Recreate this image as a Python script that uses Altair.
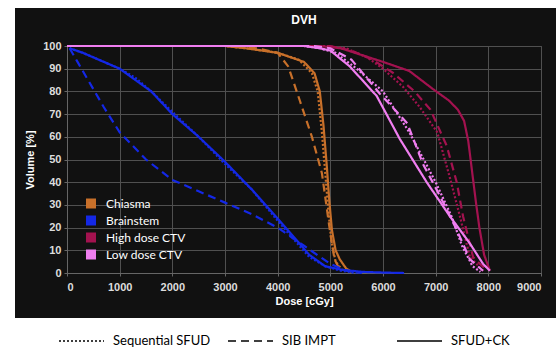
import altair as alt
import pandas as pd

# ---- data ----
structures = ["Chiasma", "Brainstem", "High dose CTV", "Low dose CTV"]
plans = ["Sequential SFUD", "SIB IMPT", "SFUD+CK"]
struct_colors = ["#c8702a", "#1428e6", "#a3124f", "#f07ef0"]

chiasma_seq_dose = [0, 3000, 3400, 4000, 4400, 4650, 4760, 4840, 4900, 4960, 5020, 5100, 5250]
chiasma_seq_vol = [100, 100, 99, 97, 94, 88, 80, 62, 45, 28, 14, 5, 0.5]
chiasma_sib_dose = [0, 3200, 3600, 4000, 4200, 4420, 4650, 4840, 4990, 5080, 5200]
chiasma_sib_vol = [100, 100, 99, 97, 91, 76, 60, 44, 19, 6, 0.5]
chiasma_ck_dose = [0, 3000, 3400, 4000, 4500, 4700, 4800, 4870, 4930, 4980, 5030, 5100, 5180, 5300, 5400]
chiasma_ck_vol = [100, 100, 99, 97, 93, 88, 80, 65, 48, 32, 19, 10, 6, 2, 0.5]

brain_seq_dose = [50, 300, 600, 1000, 1300, 1600, 2000, 2500, 3000, 3500, 4000, 4300, 4600, 4900, 5200, 5500]
brain_seq_vol = [99, 97, 94, 90, 86, 80, 71, 60, 48, 37, 23, 15, 7, 3, 1, 0]
brain_sib_dose = [50, 200, 400, 700, 1000, 1500, 2000, 2500, 3000, 3500, 4000, 4500, 5000, 5300, 5600]
brain_sib_vol = [99, 93, 85, 73, 62, 50, 41, 36, 31, 26, 20, 12, 4, 1, 0]
brain_ck_dose = [50, 300, 600, 1000, 1300, 1600, 2000, 2500, 3000, 3500, 4000, 4300, 4600, 4900, 5200, 5600, 6000, 6400]
brain_ck_vol = [99, 97, 94, 90, 85, 80, 70, 60, 49, 37, 24, 16, 8, 3, 1.5, 0.5, 0.2, 0]

high_seq_dose = [0, 4900, 5300, 5700, 6000, 6380, 6700, 7030, 7270, 7460, 7650, 7900]
high_seq_vol = [100, 100, 99, 95, 90, 82, 73, 62, 42, 25, 7, 1]
high_sib_dose = [0, 5000, 5400, 5800, 6200, 6600, 6900, 7210, 7400, 7520, 7710, 7980]
high_sib_vol = [100, 100, 98, 94, 88, 80, 72, 56, 40, 25, 7, 1]
high_ck_dose = [0, 4800, 5200, 5600, 6000, 6500, 6950, 7250, 7420, 7540, 7620, 7690, 7760, 7830, 7920, 8030]
high_ck_vol = [100, 100, 99, 96, 93, 89, 81, 76, 72, 67, 58, 45, 32, 20, 8, 1]

low_seq_dose = [0, 4500, 4800, 5100, 5500, 6000, 6500, 7000, 7300, 7500, 7700, 7850]
low_seq_vol = [100, 100, 99, 97, 90, 80, 62, 40, 25, 12, 3, 0.5]
low_sib_dose = [0, 4700, 5000, 5400, 5940, 6460, 6760, 7080, 7400, 7650, 7900]
low_sib_vol = [100, 100, 99, 94, 79, 66, 48, 34, 19, 6, 1]
low_ck_dose = [0, 4500, 4800, 5000, 5370, 5880, 6320, 6830, 7270, 7650, 7900, 8030]
low_ck_vol = [100, 100, 99, 98, 91, 78, 59, 40, 25, 13, 4, 1]

x_ticks = [0, 1000, 2000, 3000, 4000, 5000, 6000, 7000, 8000, 9000]
y_ticks = [0, 10, 20, 30, 40, 50, 60, 70, 80, 90, 100]

curves = [
    ("Chiasma", "Sequential SFUD", chiasma_seq_dose, chiasma_seq_vol),
    ("Chiasma", "SIB IMPT", chiasma_sib_dose, chiasma_sib_vol),
    ("Chiasma", "SFUD+CK", chiasma_ck_dose, chiasma_ck_vol),
    ("Brainstem", "Sequential SFUD", brain_seq_dose, brain_seq_vol),
    ("Brainstem", "SIB IMPT", brain_sib_dose, brain_sib_vol),
    ("Brainstem", "SFUD+CK", brain_ck_dose, brain_ck_vol),
    ("High dose CTV", "Sequential SFUD", high_seq_dose, high_seq_vol),
    ("High dose CTV", "SIB IMPT", high_sib_dose, high_sib_vol),
    ("High dose CTV", "SFUD+CK", high_ck_dose, high_ck_vol),
    ("Low dose CTV", "Sequential SFUD", low_seq_dose, low_seq_vol),
    ("Low dose CTV", "SIB IMPT", low_sib_dose, low_sib_vol),
    ("Low dose CTV", "SFUD+CK", low_ck_dose, low_ck_vol),
]

rows = []
for k, (s, p, ds, vs) in enumerate(curves):
    for i, (d, v) in enumerate(zip(ds, vs)):
        rows.append({"structure": s, "plan": p, "curve": f"{s}|{p}", "dose": d, "volume": v, "order": i})
df = pd.DataFrame(rows)

PANEL = "#111111"
W, H = 474, 227
PL, PT = 67, 46

lines = alt.Chart(df).mark_line(strokeWidth=2.2, clip=False).encode(
    x=alt.X("dose:Q", scale=alt.Scale(domain=[0, 9000], nice=False),
            axis=alt.Axis(values=x_ticks, title="Dose [cGy]", format="d")),
    y=alt.Y("volume:Q", scale=alt.Scale(domain=[0, 100], nice=False),
            axis=alt.Axis(values=y_ticks, title="Volume [%]")),
    color=alt.Color("structure:N", scale=alt.Scale(domain=structures, range=struct_colors),
                    legend=alt.Legend(orient="none", legendX=18, legendY=150, title=None,
                                      symbolType="square", symbolSize=25, symbolStrokeWidth=5,
                                      labelColor="white", labelFont="Lato", labelFontSize=12,
                                      rowPadding=2, labelOffset=9, clipHeight=15, zindex=1)),
    strokeDash=alt.StrokeDash("plan:N", scale=alt.Scale(domain=plans, range=[[2, 2], [8, 5], [1, 0]]),
                              legend=alt.Legend(orient="none", legendX=-9, legendY=287, title=None,
                                                direction="horizontal", symbolType="stroke",
                                                symbolSize=2025, symbolStrokeColor="black",
                                                symbolStrokeWidth=1.6, labelColor="black",
                                                labelFont="Lato", labelFontSize=13, labelOffset=8,
                                                columnPadding=16, gridAlign="all", clipHeight=16,
                                                zindex=1)),
    detail="curve:N",
    order="order:Q",
)

# white margins around the dark panel (decoration only)
margin_left = alt.Chart(pd.DataFrame({"a": [0]})).mark_rect(color="white").encode(
    x=alt.value(-PL), x2=alt.value(-52), y=alt.value(-PT), y2=alt.value(352 - PT))
margin_top = alt.Chart(pd.DataFrame({"a": [0]})).mark_rect(color="white").encode(
    x=alt.value(-PL), x2=alt.value(556 - PL), y=alt.value(-PT), y2=alt.value(-38))
margin_bottom = alt.Chart(pd.DataFrame({"a": [0]})).mark_rect(color="white").encode(
    x=alt.value(-PL), x2=alt.value(556 - PL), y=alt.value(272), y2=alt.value(352 - PT))

chart = alt.layer(margin_left, margin_top, margin_bottom, lines).properties(
    width=W, height=H,
    title=alt.TitleParams("DVH", color="white", fontSize=12, font="Liberation Sans",
                          fontWeight="bold", offset=-27, anchor="middle", frame="group"),
    autosize=alt.AutoSizeParams(type="none"),
    padding={"left": PL, "top": PT, "right": 556 - PL - W, "bottom": 352 - PT - H},
    background=PANEL,
).configure_view(
    fill=PANEL, stroke="#555555"
).configure_axis(
    gridColor="#505050", gridWidth=1, domainColor="#666666", tickColor="#666666",
    tickSize=3, labelColor="#dddddd", labelFont="Liberation Sans", labelFontWeight="bold",
    labelFontSize=11, titleColor="white", titleFont="Liberation Sans", titleFontWeight="bold",
    titleFontSize=11,
).configure_axisX(
    labelPadding=5, titlePadding=3
).configure_axisY(
    labelPadding=3, titlePadding=7
)

chart.save("out.html", embed_options={"renderer": "svg", "actions": False})
